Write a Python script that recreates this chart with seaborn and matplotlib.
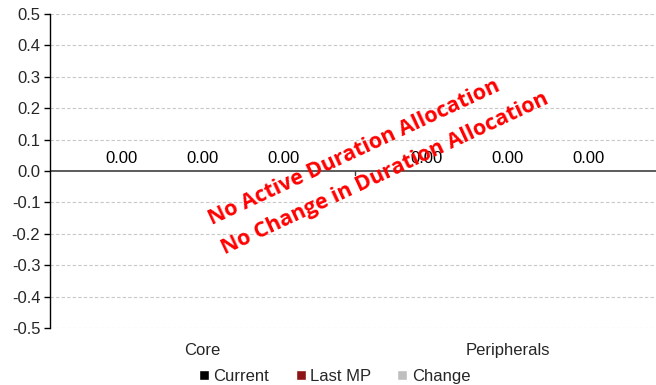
import numpy as np
import pandas as pd
import matplotlib
matplotlib.use('Agg')
import matplotlib.pyplot as plt
import seaborn as sns

# --- data ---
categories = ['Core', 'Peripherals']
series = ['Current', 'Last MP', 'Change']
current = [0.0, 0.0]
last_mp = [0.0, 0.0]
change = [0.0, 0.0]
y_ticks = [-0.5, -0.4, -0.3, -0.2, -0.1, 0.0, 0.1, 0.2, 0.3, 0.4, 0.5]
colors = ['#000000', '#A00000', '#BFBFBF']
stamp_lines = ['No Active Duration Allocation', 'No Change in Duration Allocation']

sns.set_theme(style='white')
plt.rcParams['font.family'] = ['Liberation Sans', 'DejaVu Sans']
plt.rcParams['axes.unicode_minus'] = False

df = pd.DataFrame({
    'category': categories * 3,
    'series': [s for s in series for _ in categories],
    'value': current + last_mp + change,
})

fig = plt.figure(figsize=(6.56, 3.85), dpi=100)
ax = fig.add_axes([50 / 656, 1 - 328 / 385, 610 / 656, 314 / 385])

sns.barplot(data=df, x='category', y='value', hue='series', order=categories,
            hue_order=series, palette=colors, width=0.8, ax=ax, legend=True)

for cont in ax.containers:
    ax.bar_label(cont, fmt='%.2f', padding=3.5, fontsize=12, color='#000000')

ax.set_ylim(-0.5, 0.5)
ax.set_xlim(-0.5, 1.5)
ax.set_yticks(y_ticks)
ax.set_yticklabels([f'{t:.1f}' for t in y_ticks])
ax.set_xlabel('')
ax.set_ylabel('')

# gridlines
for t in y_ticks:
    if t == 0:
        ax.axhline(t, color='#404040', lw=1.2, zorder=1)
    else:
        ax.axhline(t, color='#C8C8C8', lw=0.8, ls=(0, (3, 2)), zorder=0)
# small divider tick between categories on the zero line
ax.axvline(0.5, ymin=0.487, ymax=0.5, color='#404040', lw=1)

for s in ['top', 'right', 'bottom']:
    ax.spines[s].set_visible(False)
ax.spines['left'].set_color('#000000')
ax.spines['left'].set_linewidth(1)

ax.tick_params(axis='y', left=True, length=4, width=1, color='#000000',
               labelsize=12, pad=3)
ax.tick_params(axis='x', length=0, labelsize=12, pad=11)

# legend
handles, labels = ax.get_legend_handles_labels()
ax.get_legend().remove()
fig.legend(handles, labels, loc='center', bbox_to_anchor=(0.51, 0.022), ncol=3,
           frameon=False, fontsize=12, handlelength=0.6, handleheight=0.6,
           handletextpad=0.25, columnspacing=1.6)

# red stamp
stamp_pos = [(354 / 656, 1 - 153 / 385), (385 / 656, 1 - 174 / 385)]
for txt, (x, y) in zip(stamp_lines, stamp_pos):
    fig.text(x, y, txt, rotation=25, ha='center', va='center', color='#FF0000',
             fontsize=15.5, fontweight='bold', family=['Open Sans', 'DejaVu Sans'],
             rotation_mode='anchor')

fig.savefig('out.png', dpi=100)
